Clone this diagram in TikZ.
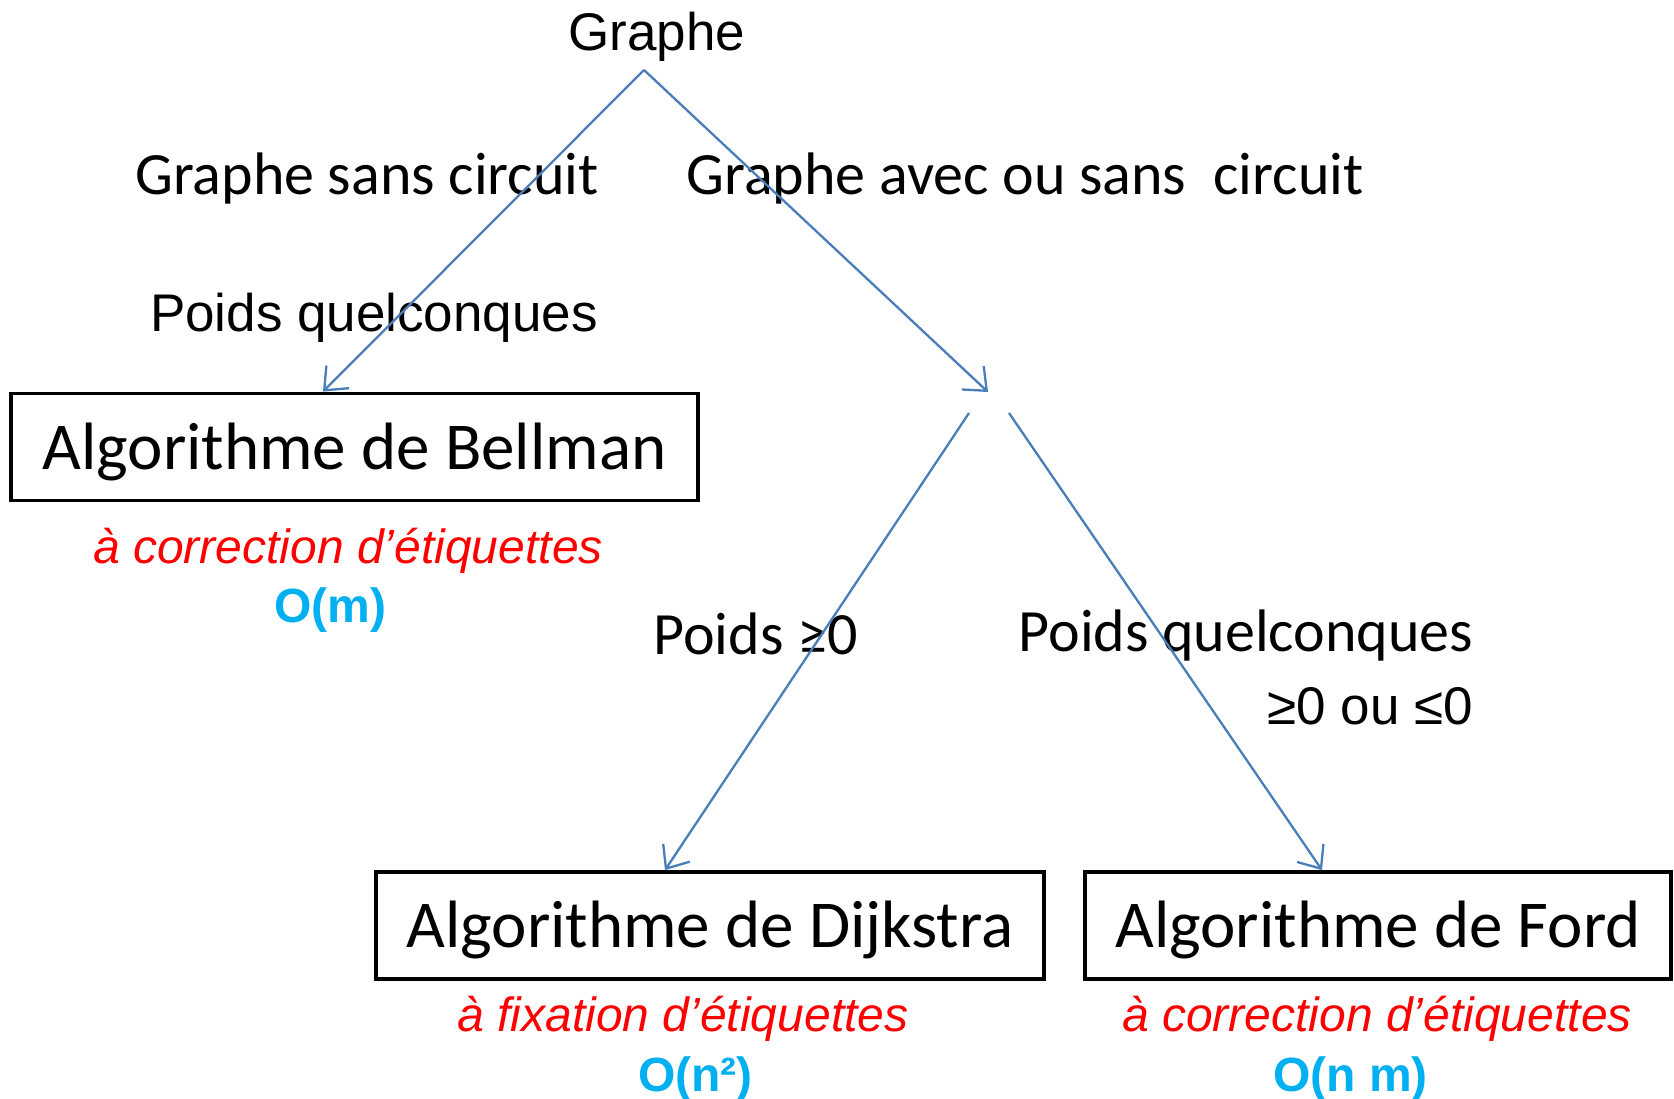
\documentclass[tikz,border=0pt]{standalone}
\usepackage{fontspec}
\setmainfont{Liberation Sans}
\newfontfamily\calibrifont{Carlito}
\usepackage{tikz}
\usetikzlibrary{arrows.meta,positioning}
\definecolor{inkBlack}{RGB}{0, 0, 0}
\definecolor{linkBlue}{RGB}{74, 126, 187}
\definecolor{noteRed}{RGB}{255, 0, 0}
\definecolor{costCyan}{RGB}{0, 176, 240}

\begin{document}
\begin{tikzpicture}[x=1pt, y=-1pt,
        plainlabel/.style={inner sep=0pt, anchor=base, font=\fontsize{53pt}{64pt}\selectfont},
        branchlabel/.style={inner sep=0pt, anchor=base, font=\calibrifont\fontsize{60pt}{72pt}\selectfont},
        algobox/.style={draw=inkBlack, line width=3.8pt, minimum height=107pt, inner sep=0pt,
            text height=56pt, text depth=12pt, font=\calibrifont\fontsize{67pt}{80pt}\selectfont},
        notelabel/.style={inner sep=0pt, anchor=base, text=noteRed, font=\itshape\fontsize{48pt}{58pt}\selectfont},
        costlabel/.style={inner sep=0pt, anchor=base, text=costCyan, font=\bfseries\fontsize{48pt}{58pt}\selectfont},
        link/.style={draw=linkBlue, line width=2.3pt, -{Straight Barb[length=19pt, width=32pt]}}]
                \useasboundingbox (0,0) rectangle (1674,1099);

                \node[plainlabel] (graphe) at (657,51) {Graphe};
                \node[branchlabel] (sansCircuit) at (367,195) {Graphe sans circuit};
                \node[branchlabel] (avecCircuit) at (1025,195) {Graphe avec ou sans\ \ circuit};
                \node[plainlabel] (poidsAny) at (374,332) {Poids quelconques};

                \node[algobox, minimum width=687pt] (bellman) at (354.5,447) {Algorithme de Bellman};
                \node[notelabel] (bellmanNote) at (348,563) {à correction d’étiquettes};
                \node[costlabel] (bellmanCost) at (330.5,622) {O(m)};

                \node[branchlabel] (poidsPos) at (755.5,654) {Poids ≥0};
                \node[branchlabel] (poidsAnyR) at (1246,651) {Poids quelconques};
                \node[plainlabel] (signes) at (1370.5,724) {≥0 ou ≤0};

                \node[algobox, minimum width=668pt] (dijkstra) at (710,925.5) {Algorithme de Dijkstra};
                \node[algobox, minimum width=586pt] (ford) at (1378,925.5) {Algorithme de Ford};
                \node[notelabel] (dijkstraNote) at (683,1031) {à fixation d’étiquettes};
                \node[notelabel] (fordNote) at (1377,1031) {à correction d’étiquettes};
                \node[costlabel] (dijkstraCost) at (695.5,1091) {O(n²)};
                \node[costlabel] (fordCost) at (1350.5,1091) {O(n m)};

                \coordinate (apex) at (644,70);
                \coordinate (split) at (988,392);
                \coordinate (splitL) at (969,413);
                \coordinate (splitR) at (1009,413);

                \draw[link] (apex) -- ([xshift=-31.5pt]bellman.north);
                \draw[link] (apex) -- (split);
                \draw[link] (splitL) -- ([xshift=-45pt]dijkstra.north);
                \draw[link] (splitR) -- ([xshift=-56pt]ford.north);
            \end{tikzpicture}
\end{document}
